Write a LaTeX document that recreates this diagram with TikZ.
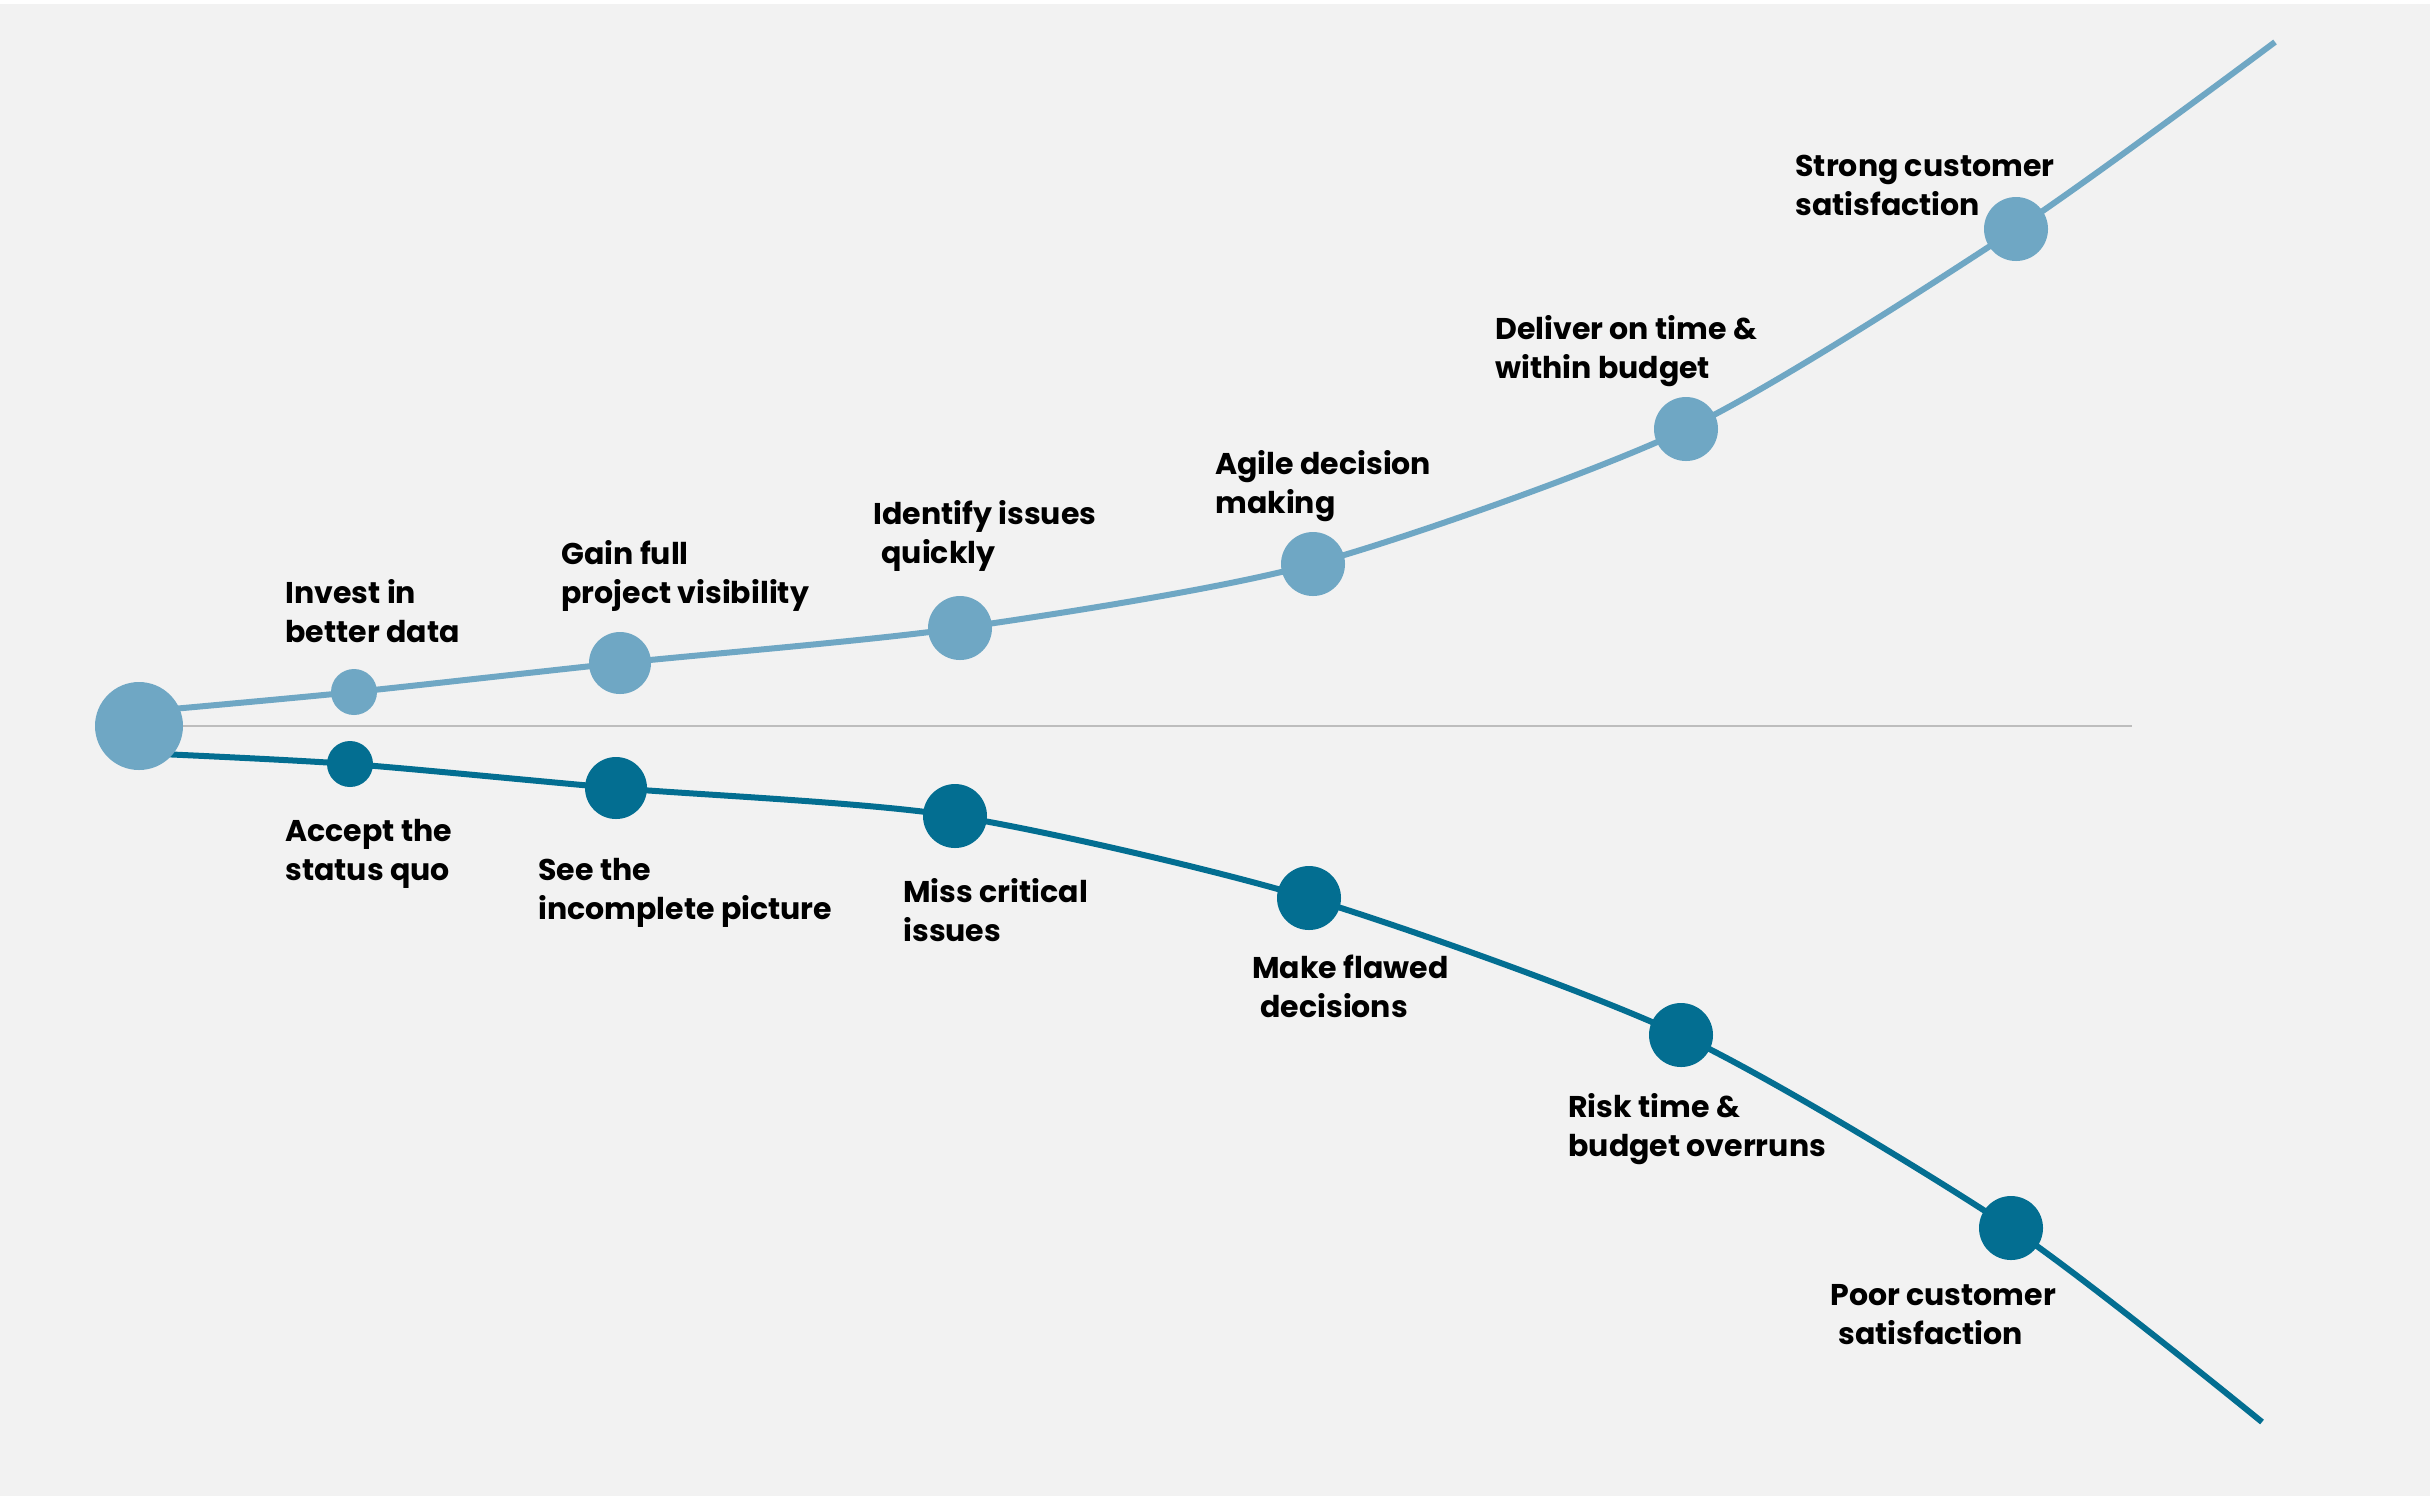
\documentclass[tikz,border=0pt]{standalone}
\usepackage{fontspec}
\setmainfont{Poppins}
\definecolor{bgc}{HTML}{F2F2F2}
\definecolor{lightb}{HTML}{6FA7C4}
\definecolor{darkb}{HTML}{036E91}
\definecolor{axisg}{HTML}{BDBDBD}
\pgfdeclarelayer{back}
\pgfdeclarelayer{lines}
\pgfsetlayers{back,lines,main}
\tikzset{
  dot/.style={circle, inner sep=0pt, draw=none},
  updot/.style={dot, fill=lightb},
  lodot/.style={dot, fill=darkb},
  lbl/.style={align=left, font=\bfseries\fontsize{15pt}{19.5pt}\selectfont, inner sep=0pt, anchor=base west, text=black},
  upline/.style={draw=lightb, line width=3pt},
  loline/.style={draw=darkb, line width=3pt},
  axis/.style={draw=axisg, line width=1pt}
}
\begin{document}
\begin{tikzpicture}[x=0.5pt, y=-0.5pt]
\useasboundingbox (0,0) rectangle (2430,1496);
% circles
\node[updot, minimum size=44pt] (s) at (139,726) {};
\node[updot, minimum size=23pt] (u1) at (354,692) {};
\node[updot, minimum size=31pt] (u2) at (620,663) {};
\node[updot, minimum size=32pt] (u3) at (960,628) {};
\node[updot, minimum size=32pt] (u4) at (1313,564) {};
\node[updot, minimum size=32pt] (u5) at (1686,429) {};
\node[updot, minimum size=32pt] (u6) at (2016,229) {};
\node[lodot, minimum size=23pt] (l1) at (350,764) {};
\node[lodot, minimum size=31pt] (l2) at (616,788) {};
\node[lodot, minimum size=32pt] (l3) at (955,816) {};
\node[lodot, minimum size=32pt] (l4) at (1309,898) {};
\node[lodot, minimum size=32pt] (l5) at (1681,1035) {};
\node[lodot, minimum size=32pt] (l6) at (2011,1228) {};
% free ends
\coordinate (us) at (139,712);
\coordinate (ls) at (139,753);
\coordinate (ue) at (2275,42);
\coordinate (le) at (2262,1422);
\coordinate (ge) at (2132,726);
\begin{pgfonlayer}{back}
  \fill[white] (0,0) rectangle (2430,1496);
  \fill[bgc] (0,4) rectangle (2430,1496);
\end{pgfonlayer}
\begin{pgfonlayer}{lines}
  \draw[axis] (s.center) -- (ge);
  \draw[upline] plot[smooth, tension=0.45] coordinates {(us) (u1.center) (u2.center) (u3.center) (u4.center) (u5.center) (u6.center) (ue)};
  \draw[loline] plot[smooth, tension=0.45] coordinates {(ls) (l1.center) (l2.center) (l3.center) (l4.center) (l5.center) (l6.center) (le)};
\end{pgfonlayer}
% labels
\node[lbl] (t1) at (285,642) {Invest in\\better data};
\node[lbl] (t2) at (561,603) {Gain full\\project visibility};
\node[lbl] (t3) at (873,563) {Identify issues\\\hspace*{4pt}quickly};
\node[lbl] (t4) at (1215,513) {Agile decision\\making};
\node[lbl] (t5) at (1495,378) {Deliver on time \&\\within budget};
\node[lbl] (t6) at (1795,215) {Strong customer\\satisfaction};
\node[lbl] (b1) at (285,880) {Accept the\\status quo};
\node[lbl] (b2) at (538,919) {See the\\incomplete picture};
\node[lbl] (b3) at (903,941) {Miss critical\\issues};
\node[lbl] (b4) at (1252,1017) {Make flawed\\\hspace*{4pt}decisions};
\node[lbl] (b5) at (1568,1156) {Risk time \&\\budget overruns};
\node[lbl] (b6) at (1830,1344) {Poor customer\\\hspace*{4pt}satisfaction};
\end{tikzpicture}
\end{document}
